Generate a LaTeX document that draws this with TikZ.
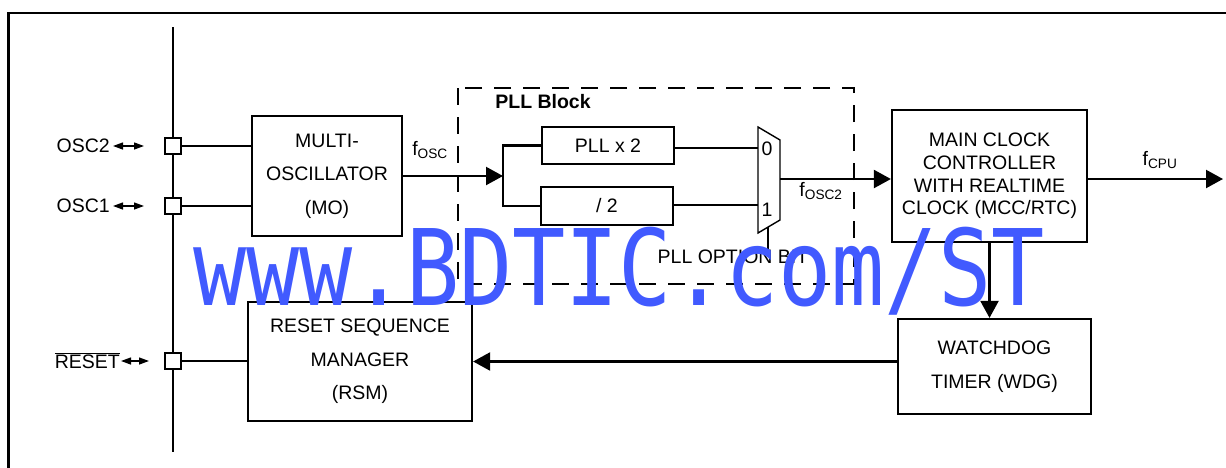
\documentclass[tikz,border=0pt]{standalone}
\usepackage{fontspec}
\setmainfont{Liberation Sans}
\newfontfamily\wmfont{DejaVu Sans Mono}
\usetikzlibrary{arrows.meta}
\definecolor{wmblue}{RGB}{65,90,255}
\begin{document}
\begin{tikzpicture}[x=1pt,y=-1pt,
  box/.style={draw,line width=2.2pt,inner sep=0pt,align=center,font=\fontsize{19.5}{33.5}\selectfont},
  txt/.style={inner sep=0pt,font=\fontsize{19.5}{23}\selectfont},
  wire/.style={line width=2.2pt},
  arr/.style={line width=2.2pt,-{Triangle[length=17pt,width=18pt]}},
  pin/.style={draw,fill=white,line width=2pt,minimum size=16pt,inner sep=0pt},
  dbl/.style={line width=1.3pt,{Triangle[length=10pt,width=7pt]}-{Triangle[length=10pt,width=7pt]}},
  dash box/.style={line width=2pt,dash pattern=on 17pt off 12pt}
]
\useasboundingbox (0,0) rectangle (1226,467);
% frame
\coordinate (fb) at (8.5,480);
\coordinate (fc) at (8.5,13);
\coordinate (fr) at (1240,13);
\draw[line width=2.6pt] (fb) -- (fc) -- (fr);
% bus
\coordinate (bt) at (173,27);
\coordinate (bb) at (173,452);
\draw[line width=2.2pt] (bt) -- (bb);
% pins
\node[pin] (p2) at (173,146) {};
\node[pin] (p1) at (173,206) {};
\node[pin] (pr) at (173,361) {};
% pin labels
\node[txt,anchor=east] (l2) at (110,146) {OSC2};
\node[txt,anchor=east] (l1) at (110,206) {OSC1};
\node[txt,anchor=base east] (lr) at (120,368) {$\overline{\mbox{RESET}}$};
\coordinate (a2s) at (113,146); \coordinate (a2e) at (144,146);
\coordinate (a1s) at (113,206); \coordinate (a1e) at (144,206);
\coordinate (ars) at (121,361); \coordinate (are) at (149,361);
\draw[dbl] (a2s) -- (a2e);
\draw[dbl] (a1s) -- (a1e);
\draw[dbl] (ars) -- (are);
% blocks
\node[box,minimum width=150pt,minimum height=120pt] (mo) at (327,176) {MULTI-\\OSCILLATOR\\(MO)};
\node[box,minimum width=132pt,minimum height=37pt] (pll2) at (608,145.5) {PLL x 2};
\node[box,minimum width=132pt,minimum height=38pt] (div2) at (607,206) {/ 2};
\node[box,minimum width=195pt,minimum height=132pt,font=\fontsize{19.5}{22.7}\selectfont] (mcc) at (989.5,176) {MAIN CLOCK\\CONTROLLER\\WITH REALTIME\\CLOCK (MCC/RTC)};
\node[box,minimum width=193pt,minimum height=95pt] (wdg) at (994.5,366.5) {WATCHDOG\\TIMER (WDG)};
\node[box,minimum width=224pt,minimum height=119pt] (rsm) at (360,361.5) {RESET SEQUENCE\\MANAGER\\(RSM)};
% PLL block
\coordinate (pbtl) at (458,88);
\coordinate (pbbr) at (854,284);
\draw[dash box] (pbtl) rectangle (pbbr);
\node[inner sep=0pt,font=\fontsize{19.5}{23}\selectfont\bfseries] (pllb) at (543,102) {PLL Block};
% mux
\coordinate (mtl) at (758,127);
\coordinate (mtr) at (780,140);
\coordinate (mbr) at (780,220);
\coordinate (mbl) at (758,233);
\draw[line width=1.4pt,line join=miter] (mtl) -- (mtr) -- (mbr) -- (mbl) -- cycle;
\coordinate (m0) at (758,148);
\coordinate (m1) at (758,205);
\coordinate (mo2) at (780,179);
\coordinate (msel) at (768,227);
\node[txt] (in0) at (767,149) {0};
\node[txt] (in1) at (767,210) {1};
\node[txt] (opt) at (733,257) {PLL OPTION BIT};
% wires
\draw[wire] (p2.east) -- (p2 -| mo.west);
\draw[wire] (p1.east) -- (p1 -| mo.west);
\draw[wire] (pr.east) -- (pr -| rsm.west);
\coordinate (br) at (503,176);
\draw[arr] (mo.east) -- (br);
\draw[wire] (pll2.west) -| (br) |- (div2.west);
\draw[wire] (pll2.east |- m0) -- (m0);
\draw[wire] (div2.east |- m1) -- (m1);
\draw[arr] (mo2) -- (mo2 -| mcc.west);
\coordinate (cpu) at (1223,179);
\draw[arr] (mcc.east |- cpu) -- (cpu);
\draw[wire] (msel) -- (msel |- opt.north);
\draw[arr] (mcc.south) -- (mcc.south |- wdg.north);
\draw[arr] (wdg.west |- rsm.east) -- (rsm.east);
% signal labels
\node[txt] (fosc) at (430,150) {f\textsubscript{OSC}};
\node[txt] (fosc2) at (821,191) {f\textsubscript{OSC2}};
\node[txt] (fcpu) at (1160,160) {f\textsubscript{CPU}};
% watermark
\node[inner sep=0pt,anchor=base west,text=wmblue] (wm) at (193,305)
  {\scalebox{0.837}[1]{\wmfont\fontsize{105.6}{110}\selectfont www.BDTIC.com/ST}};
\end{tikzpicture}
\end{document}
